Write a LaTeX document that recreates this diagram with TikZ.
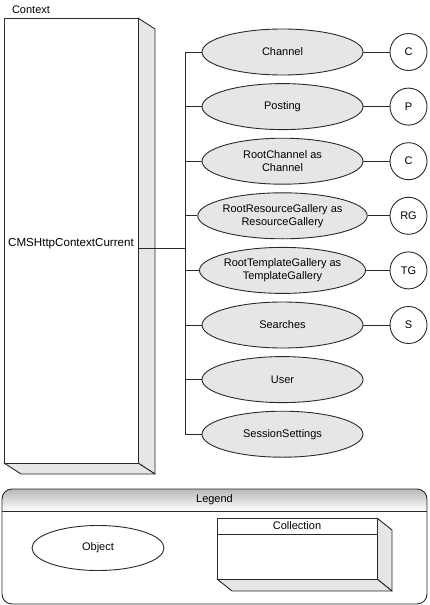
\documentclass[tikz,border=0pt]{standalone}
\usepackage{fontspec}
\setmainfont{Liberation Sans}
\usetikzlibrary{shapes.geometric}
\definecolor{facegray}{HTML}{E6E6E6}
\definecolor{linec}{HTML}{2A2A2A}
\tikzset{
  ln/.style={draw=linec, line width=0.9pt},
  face/.style={fill=facegray, draw=linec, line width=0.9pt, line join=round},
  objnode/.style={ellipse, draw=linec, line width=0.9pt, fill=facegray, minimum width=161pt, minimum height=46pt, inner sep=0pt, align=center},
  refnode/.style={circle, draw=linec, line width=0.9pt, fill=white, minimum size=37pt, inner sep=0pt},
  lbl/.style={inner sep=0pt}
}
\begin{document}
\begin{tikzpicture}[x=1pt,y=-1pt, font=\fontsize{11}{13}\selectfont]
\useasboundingbox (0,0) rectangle (429,605);

% main collection box
\fill[white] (0,0) rectangle (429,605);
\path[face] (138,18) -- (155,29) -- (155,474) -- (138,463) -- cycle;
\path[face] (4,463) -- (138,463) -- (155,474) -- (21,474) -- cycle;
\node[draw=linec, line width=0.9pt, fill=white, minimum width=134pt, minimum height=445pt, inner sep=0pt, anchor=north west] (ctx) at (4,18) {};
\node[lbl] (ctxtitle) at (31,10) {Context};
\node[lbl, font=\fontsize{11.6}{14}\selectfont] (ctxlabel) at (71,244) {CMSHttpContextCurrent};

% trunk
\coordinate (j) at (185,248);
\coordinate (ttop) at (185,52);
\coordinate (tbot) at (185,434.6);
\draw[ln] (ctx.east |- j) -- (j);
\draw[ln] (ttop) -- (tbot);

% objects
\foreach \i/\txt in {0/Channel,1/Posting,2/{RootChannel as\\Channel},3/{RootResourceGallery as\\ResourceGallery},4/{RootTemplateGallery as\\TemplateGallery},5/Searches,6/User,7/SessionSettings}{
  \node[objnode] (o\i) at (282.5,52+54.6*\i) {\txt};
  \draw[ln] (185,52+54.6*\i) -- (o\i.west);
}
\foreach \i/\txt in {0/C,1/P,2/C,3/RG,4/TG,5/S}{
  \node[refnode] (r\i) at (408.5,52+54.6*\i) {\txt};
  \draw[ln] (o\i.east) -- (r\i.west);
}

% legend
\begin{scope}
  \clip[rounded corners=10pt] (2,489) rectangle (427,604);
  \shade[top color=black!28, bottom color=white] (2,489) rectangle (427,511);
\end{scope}
\draw[ln, rounded corners=10pt] (2,489) rectangle (427,604);
\draw[ln] (2,511) -- (427,511);
\node[lbl] (legtitle) at (214.5,500) {Legend};

\node[ellipse, draw=linec, line width=0.9pt, fill=white, minimum width=132pt, minimum height=45pt, inner sep=0pt] (obj) at (98,548) {Object};

\path[face] (377,518) -- (392,530) -- (392,591) -- (377,579) -- cycle;
\path[face] (217,579) -- (377,579) -- (392,591) -- (232,591) -- cycle;
\node[draw=linec, line width=0.9pt, fill=white, minimum width=160pt, minimum height=61pt, inner sep=0pt, anchor=north west] (coll) at (217,518) {};
\draw[ln] (217,534) -- (377,534);
\node[lbl] (colltitle) at (297,526) {Collection};
\end{tikzpicture}
\end{document}
